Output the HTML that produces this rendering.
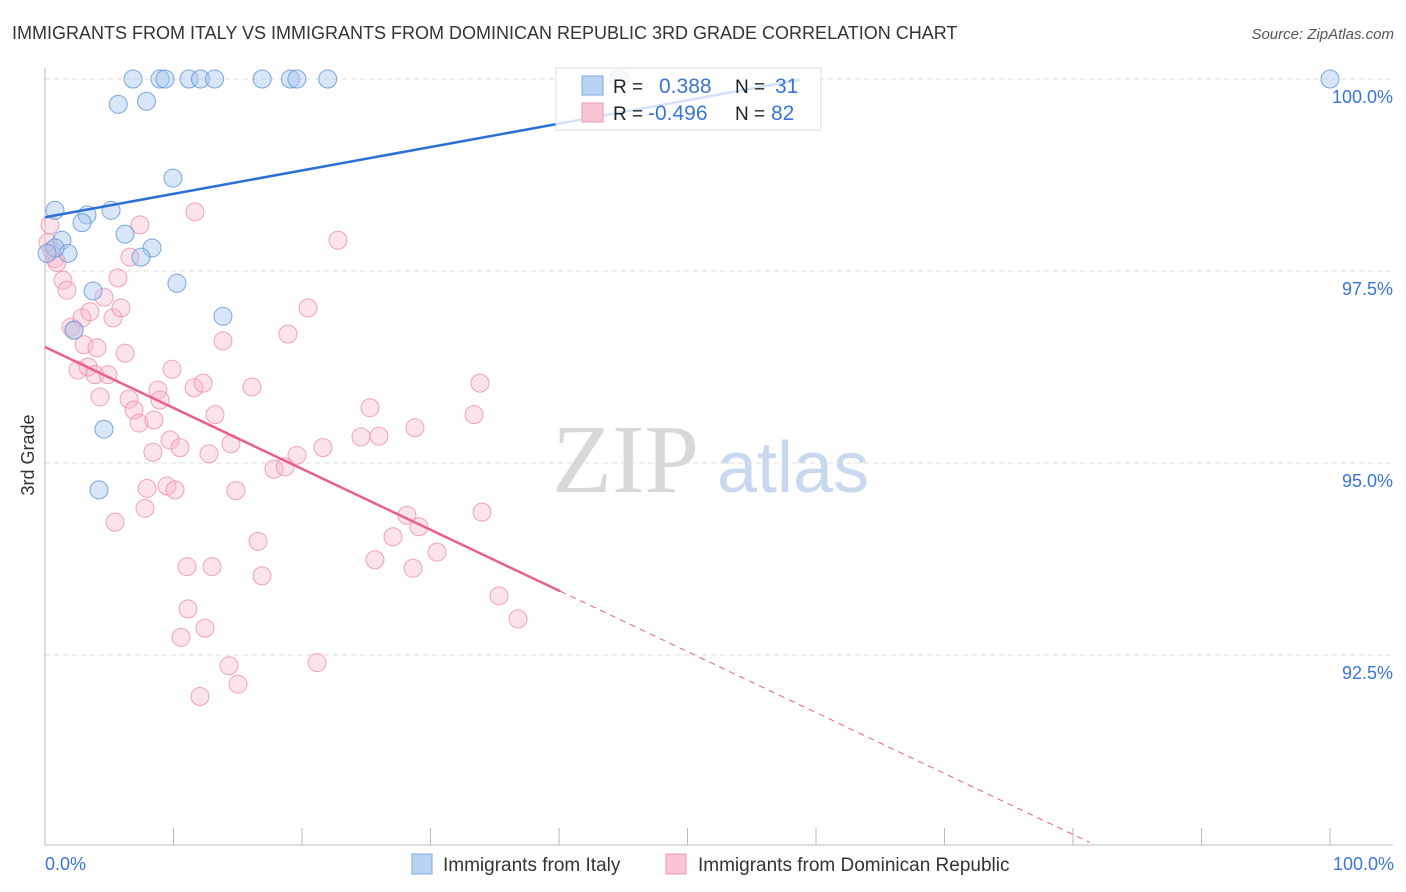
<!DOCTYPE html>
<html><head><meta charset="utf-8"><style>
body{margin:0;background:#fff;font-family:"Liberation Sans",sans-serif;}
svg{display:block}
</style></head><body>
<svg id="chart" width="1406" height="892">
<text x="12" y="39" font-size="18" fill="#333">IMMIGRANTS FROM ITALY VS IMMIGRANTS FROM DOMINICAN REPUBLIC 3RD GRADE CORRELATION CHART</text>
<text x="1394" y="39" font-size="15" fill="#555" font-style="italic" text-anchor="end">Source: ZipAtlas.com</text>
<g>
<text x="552" y="492" font-family="Liberation Serif" font-size="98" fill="#d8d8d8">ZIP</text>
<text x="717" y="492" font-size="72" fill="#c8d8ee">atlas</text>
</g>
<g id="grid"></g>
<g id="axes"></g>
<g id="marks"></g>
<g id="lines"></g>
<g>
<rect x="556" y="68" width="265" height="62" fill="#fff" fill-opacity="0.8" stroke="#ddd"/>
<rect x="582" y="76" width="21" height="19" fill="#b9d3f5" stroke="#7fa8e0"/>
<rect x="582" y="103" width="21" height="19" fill="#f9c5d5" stroke="#ec9ab2"/>
<text x="613" y="93" font-size="19" fill="#222">R = </text><text x="659" y="93" font-size="21" fill="#3a75d6">0.388</text>
<text x="735" y="93" font-size="19" fill="#222">N = </text><text x="775" y="93" font-size="21" fill="#3a75d6">31</text>
<text x="613" y="120" font-size="19" fill="#222">R = </text><text x="648" y="120" font-size="21" fill="#3a75d6">-0.496</text>
<text x="735" y="120" font-size="19" fill="#222">N = </text><text x="771" y="120" font-size="21" fill="#3a75d6">82</text>
</g>
<text transform="translate(34,455) rotate(-90)" font-size="18" fill="#333" text-anchor="middle">3rd Grade</text>
<text x="45" y="870" font-size="18" fill="#3a75d6">0.0%</text>
<text x="1394" y="870" font-size="18" fill="#3a75d6" text-anchor="end">100.0%</text>
<g><rect x="412" y="854" width="20" height="20" fill="#b9d3f5" stroke="#7fa8e0"/><text x="443" y="871" font-size="19" fill="#333">Immigrants from Italy</text></g>
<g><rect x="666" y="854" width="20" height="20" fill="#f9c5d5" stroke="#ec9ab2"/><text x="698" y="871" font-size="19" fill="#333">Immigrants from Dominican Republic</text></g>
</svg>
<script>
const yTicks=[100,97.5,95,92.5];
const yTickLabels=["100.0%","97.5%","95.0%","92.5%"];
const italyX=[6.85,8.95,9.34,11.2,12.1,13.2,16.9,19.1,19.6,22.0,100,44.7,5.7,7.9,9.96,0.78,3.27,2.88,5.14,6.23,8.33,7.47,1.32,1.79,0.78,0.16,3.74,10.27,13.85,2.26,4.59,4.2];
const italyY=[100,100,100,100,100,100,100,100,100,100,100,100,99.67,99.71,98.71,98.29,98.23,98.13,98.29,97.98,97.80,97.68,97.90,97.73,97.80,97.73,97.24,97.34,96.91,96.73,95.44,94.65];
const domPx=[[50,225],[52,250],[55,258],[57,262],[63,280],[67,290],[71,327],[74,330],[82,318],[90,312],[84,345],[97,348],[78,370],[88,367],[95,375],[108,375],[104,297],[113,318],[118,278],[121,308],[125,353],[130,257],[140,225],[100,397],[129,399],[134,410],[139,423],[154,420],[158,390],[160,400],[153,452],[172,369],[170,440],[180,448],[167,486],[147,488],[145,508],[175,490],[115,522],[195,212],[194,388],[203,383],[215,415],[223,341],[231,444],[252,387],[209,454],[236,491],[258,541],[262,576],[187,567],[212,567],[188,609],[205,628],[181,637],[229,666],[238,684],[200,696],[288,334],[308,308],[274,469],[285,467],[297,455],[323,448],[317,663],[338,236],[370,408],[361,437],[379,436],[415,428],[407,515],[393,537],[419,527],[375,560],[413,568],[437,552],[480,383],[474,415],[482,512],[499,596],[518,619],[48,243]];
const domX=[0.39,0.54,0.78,0.93,1.4,1.71,2.02,2.26,2.88,3.5,3.04,4.05,2.57,3.35,3.89,4.9,4.59,5.29,5.68,5.91,6.23,6.61,7.39,4.28,6.54,6.93,7.32,8.48,8.79,8.95,8.4,9.88,9.73,10.51,9.49,7.94,7.78,10.12,5.45,11.67,11.6,12.3,13.23,13.85,14.47,16.11,12.76,14.86,16.58,16.89,11.05,13.0,11.13,12.45,10.58,14.32,15.02,12.06,18.91,20.47,17.82,18.68,19.61,21.63,21.17,22.8,25.29,24.59,25.99,28.79,28.17,27.08,29.1,25.68,28.64,30.51,33.85,33.39,34.01,35.33,36.81,0.23];
const domY=[98.1,97.77,97.66,97.61,97.38,97.25,96.77,96.73,96.89,96.97,96.54,96.5,96.21,96.25,96.15,96.15,97.16,96.89,97.41,97.02,96.43,97.68,98.1,95.86,95.83,95.69,95.52,95.56,95.95,95.82,95.14,96.22,95.3,95.2,94.7,94.67,94.41,94.65,94.23,98.27,95.98,96.04,95.63,96.59,95.25,95.99,95.12,94.64,93.98,93.53,93.65,93.65,93.1,92.85,92.73,92.36,92.12,91.96,96.68,97.02,94.92,94.95,95.1,95.2,92.4,97.9,95.72,95.34,95.35,95.46,94.32,94.04,94.17,93.74,93.63,93.84,96.04,95.63,94.36,93.27,92.97,97.87];
const italyTrend=[[0,98.2],[58.75,99.99]];
const domTrendSolid=[[0,96.51],[40.1,93.33]];
const domTrendDash=[[40.1,93.33],[81.3,90.06]];
const NS="http://www.w3.org/2000/svg";
const xs=v=>45+v*12.85, ys=v=>79+(100-v)*76.8;
function mk(p,t,a){const e=document.createElementNS(NS,t);for(const k in a)e.setAttribute(k,a[k]);p.appendChild(e);return e;}
const grid=document.getElementById('grid'),axes=document.getElementById('axes'),marks=document.getElementById('marks'),lines=document.getElementById('lines');
yTicks.forEach((t,i)=>{
 const g=mk(grid,'line',{x1:45,x2:1393,y1:ys(t),y2:ys(t),stroke:'#ddd','stroke-dasharray':'5,4'});
 
 
 const l=mk(axes,'text',{x:1393,y:ys(t)+24,'font-size':18,fill:'#3a75d6','text-anchor':'end'});
 l.textContent=yTickLabels[i];
 
 
});
const ya=mk(axes,'line',{x1:45,x2:45,y1:68,y2:845,stroke:'#bbb'});


const xa=mk(axes,'line',{x1:45,x2:1393,y1:845,y2:845,stroke:'#bbb'});


for(let k=0;k<=10;k++){const t=mk(axes,'line',{x1:xs(k*10),x2:xs(k*10),y1:828,y2:845,stroke:'#bbb'});
 
 }
domX.forEach((x,i)=>{const c=mk(marks,'circle',{cx:xs(x),cy:ys(domY[i]),r:9,fill:'#f7b6ca','fill-opacity':0.4,stroke:'#ec8fab','stroke-opacity':0.8});
 
 });
italyX.forEach((x,i)=>{const c=mk(marks,'circle',{cx:xs(x),cy:ys(italyY[i]),r:9,fill:'#a9c8f0','fill-opacity':0.45,stroke:'#5a92dc','stroke-opacity':0.8});
 
 });
const l1=mk(lines,'line',{x1:xs(italyTrend[0][0]),y1:ys(italyTrend[0][1]),x2:xs(italyTrend[1][0]),y2:ys(italyTrend[1][1]),stroke:'#2a6fd6','stroke-width':2.5});


const l2=mk(lines,'line',{x1:xs(domTrendSolid[0][0]),y1:ys(domTrendSolid[0][1]),x2:xs(domTrendSolid[1][0]),y2:ys(domTrendSolid[1][1]),stroke:'#e8608a','stroke-width':2.5});


const l3=mk(lines,'line',{x1:xs(domTrendDash[0][0]),y1:ys(domTrendDash[0][1]),x2:xs(domTrendDash[1][0]),y2:ys(domTrendDash[1][1]),stroke:'#e8608a','stroke-width':1,'stroke-dasharray':'6,5'});


</script>
</body></html>
